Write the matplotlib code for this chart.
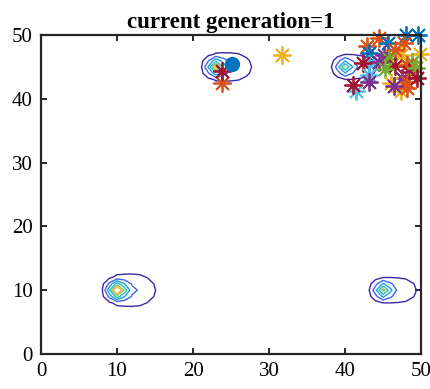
import numpy as np
import matplotlib
matplotlib.use("Agg")
import matplotlib.pyplot as plt
from matplotlib.colors import LinearSegmentedColormap

plt.rcParams["font.family"] = ["Liberation Serif", "DejaVu Serif"]

# landscape peaks: centre x, centre y, height
peak_x = [10.0, 23.0, 40.0, 45.0]
peak_y = [10.0, 45.0, 45.0, 10.0]
peak_h = [10.0, 8.0, 6.2, 6.8]
levels = [1, 2.5, 4, 5.5, 7, 8.5]

# population (asterisks)
pop_x = [41.4, 44.4, 48.0, 49.6, 45.7, 47.7, 42.9, 43.1, 49.9, 47.3, 45.1, 46.6,
         45.8, 43.1, 44.4, 42.3, 48.8, 46.6, 48.2, 45.3, 48.4, 49.3, 43.1, 47.5,
         41.1, 43.1, 46.0, 48.2, 47.3, 48.2, 49.5, 46.4, 31.7, 23.8, 23.8]
pop_y = [41.3, 49.6, 50.0, 50.0, 48.7, 48.7, 48.2, 47.2, 47.0, 46.9, 46.9, 47.6,
         46.3, 45.5, 45.8, 45.6, 45.8, 45.2, 45.3, 44.7, 44.2, 44.8, 43.8, 43.3,
         42.2, 42.7, 42.5, 42.7, 41.3, 41.7, 43.3, 42.0, 46.9, 42.5, 44.3]
pop_c = ["lblue", "orange", "blue", "blue", "blue", "orange", "orange", "blue",
         "yellow", "yellow", "purple", "orange", "green", "lblue", "purple", "dred",
         "green", "dred", "orange", "green", "dred", "green", "lblue", "purple",
         "dred", "purple", "yellow", "orange", "yellow", "orange", "dred", "purple",
         "yellow", "orange", "dred"]
best_x = [25.1]
best_y = [45.5]

mcolors = {"blue": "#0072BD", "orange": "#D95319", "yellow": "#EDB120",
           "purple": "#7E2F8E", "green": "#77AC30", "lblue": "#4DBEEE",
           "dred": "#A2142F"}

parula = LinearSegmentedColormap.from_list("parula", [
    (0.0, (0.2422, 0.1504, 0.6603)),
    (0.12, (0.2810, 0.3228, 0.9571)),
    (0.3, (0.1540, 0.5902, 0.9218)),
    (0.45, (0.0297, 0.7082, 0.8163)),
    (0.62, (0.3165, 0.7880, 0.5431)),
    (0.78, (0.7802, 0.7320, 0.2880)),
    (0.88, (0.9871, 0.7358, 0.2438)),
    (1.0, (0.9763, 0.9831, 0.0538)),
])

xg, yg = np.meshgrid(np.arange(0, 51, 1.0), np.arange(0, 51, 1.0))
z = np.zeros_like(xg)
for cx, cy, h in zip(peak_x, peak_y, peak_h):
    dx = xg - cx
    dy = yg - cy
    z += h * np.exp(-(dx ** 2 / 1.1 ** 2 + dy ** 2 / 1.2 ** 2))
    z += 0.25 * h * np.exp(-((dx - 2.2) ** 2 / 3.0 ** 2 + dy ** 2 / 2.6 ** 2))

fig = plt.figure(figsize=(4.3, 3.89), dpi=100)
ax = fig.add_axes([0.0953, 0.09, 0.884, 0.82])

ax.contour(xg, yg, z, levels=levels, cmap=parula, vmin=1, vmax=9.5, linewidths=1.0)

for x, y, c in zip(pop_x, pop_y, pop_c):
    ax.plot(x, y, linestyle="none", marker=(8, 2, 0), markersize=13,
            markeredgewidth=1.3, color=mcolors[c], clip_on=False)
ax.plot(best_x, best_y, "o", color="#0072BD", markersize=11, markeredgewidth=0)

ax.set_xlim(0, 50)
ax.set_ylim(0, 50)
ax.set_xticks([0, 10, 20, 30, 40, 50])
ax.set_yticks([0, 10, 20, 30, 40, 50])
ax.tick_params(direction="in", length=4, width=1.2, top=True, right=True,
               labelsize=15, pad=6)
for s in ax.spines.values():
    s.set_linewidth(1.6)
    s.set_color("#262626")
ax.set_title("current generation=1", fontsize=16.5, fontweight="bold", pad=5)

fig.savefig("out.png", dpi=100)
